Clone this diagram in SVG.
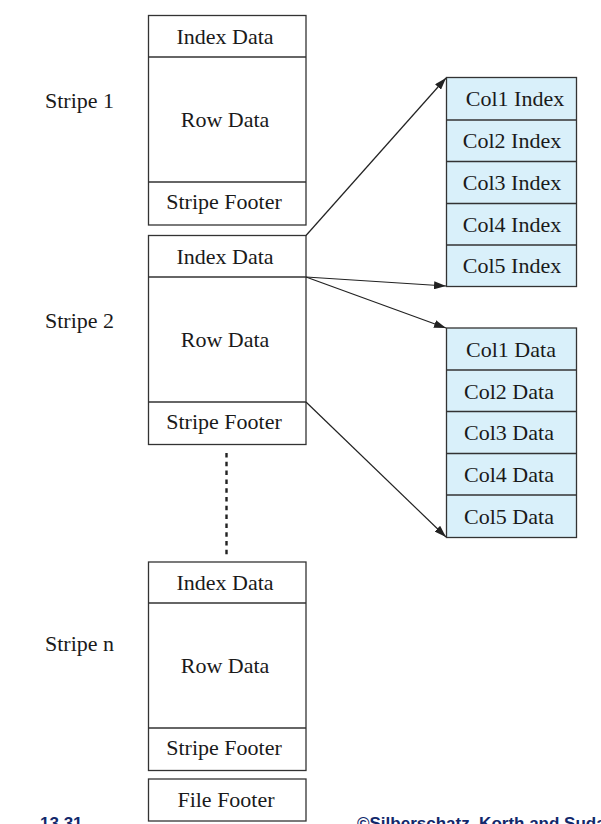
<svg xmlns="http://www.w3.org/2000/svg" width="601" height="824" viewBox="0 0 601 824">
<defs>
<style>
.box{fill:#fff;stroke:#333;stroke-width:1.3}
.col{fill:#d9f0fa;stroke:#333;stroke-width:1.3}
.div{stroke:#333;stroke-width:1.3}
text{font-family:"Liberation Serif","Times New Roman",serif;font-size:22px;fill:#1a1a1a}
.c{text-anchor:middle}
.conn{stroke:#222;stroke-width:1.2;fill:none}
.dots{stroke:#222;stroke-width:2.4;fill:none;stroke-dasharray:4.5 4.3}
.foot{font-family:"Liberation Sans",Arial,sans-serif;font-weight:bold;font-size:17px;fill:#12286b}
</style>
<marker id="ah" viewBox="0 0 12 8" refX="12" refY="4" markerWidth="12" markerHeight="8" markerUnits="userSpaceOnUse" orient="auto">
<path d="M0,0 L12,4 L0,8 Z" fill="#222"/>
</marker>
</defs>
<g id="stripe1">
<rect class="box" x="148.5" y="15.5" width="157.5" height="209.5"/>
<line class="div" x1="148.5" y1="57" x2="306" y2="57"/>
<line class="div" x1="148.5" y1="182" x2="306" y2="182"/>
<text class="c" x="225" y="43.5">Index Data</text>
<text class="c" x="225" y="126.5">Row Data</text>
<text class="c" x="224" y="209">Stripe Footer</text>
<text x="45" y="108">Stripe 1</text>
</g>
<g id="stripe2">
<rect class="box" x="148.5" y="235.5" width="157.5" height="209"/>
<line class="div" x1="148.5" y1="277" x2="306" y2="277"/>
<line class="div" x1="148.5" y1="402" x2="306" y2="402"/>
<text class="c" x="225" y="263.5">Index Data</text>
<text class="c" x="225" y="346.5">Row Data</text>
<text class="c" x="224" y="429">Stripe Footer</text>
<text x="45" y="328">Stripe 2</text>
</g>
<g id="stripen">
<rect class="box" x="148.5" y="562" width="157.5" height="208.5"/>
<line class="div" x1="148.5" y1="603" x2="306" y2="603"/>
<line class="div" x1="148.5" y1="728" x2="306" y2="728"/>
<text class="c" x="225" y="589.5">Index Data</text>
<text class="c" x="225" y="672.5">Row Data</text>
<text class="c" x="224" y="755">Stripe Footer</text>
<text x="45" y="651">Stripe n</text>
</g>
<g id="filefooter">
<rect class="box" x="148.5" y="779" width="157.5" height="42"/>
<text class="c" x="226" y="806.5">File Footer</text>
</g>
<g id="colindex">
<rect class="col" x="446.5" y="77.5" width="130" height="209"/>
<line class="div" x1="446.5" y1="120" x2="576.5" y2="120"/>
<line class="div" x1="446.5" y1="161.5" x2="576.5" y2="161.5"/>
<line class="div" x1="446.5" y1="203.5" x2="576.5" y2="203.5"/>
<line class="div" x1="446.5" y1="245" x2="576.5" y2="245"/>
<text class="c" x="515" y="106">Col1 Index</text>
<text class="c" x="512" y="148">Col2 Index</text>
<text class="c" x="512" y="189.5">Col3 Index</text>
<text class="c" x="512" y="231.5">Col4 Index</text>
<text class="c" x="512" y="273">Col5 Index</text>
</g>
<g id="coldata">
<rect class="col" x="446.5" y="328" width="130" height="209.5"/>
<line class="div" x1="446.5" y1="370" x2="576.5" y2="370"/>
<line class="div" x1="446.5" y1="411.5" x2="576.5" y2="411.5"/>
<line class="div" x1="446.5" y1="453.5" x2="576.5" y2="453.5"/>
<line class="div" x1="446.5" y1="495" x2="576.5" y2="495"/>
<text class="c" x="511" y="357">Col1 Data</text>
<text class="c" x="509" y="398.5">Col2 Data</text>
<text class="c" x="509" y="440">Col3 Data</text>
<text class="c" x="509" y="482">Col4 Data</text>
<text class="c" x="509" y="523.5">Col5 Data</text>
</g>
<g id="connectors">
<line class="conn" x1="306" y1="235.5" x2="446" y2="78" marker-end="url(#ah)"/>
<line class="conn" x1="306" y1="277" x2="446" y2="286" marker-end="url(#ah)"/>
<line class="conn" x1="306" y1="277" x2="446" y2="328" marker-end="url(#ah)"/>
<line class="conn" x1="306" y1="402" x2="446" y2="537" marker-end="url(#ah)"/>
<line class="dots" x1="226.5" y1="453" x2="226.5" y2="558"/>
</g>
<text class="foot" x="40" y="829">13.31</text>
<text class="foot" x="357" y="829">©Silberschatz, Korth and Sudarshan</text>
</svg>
